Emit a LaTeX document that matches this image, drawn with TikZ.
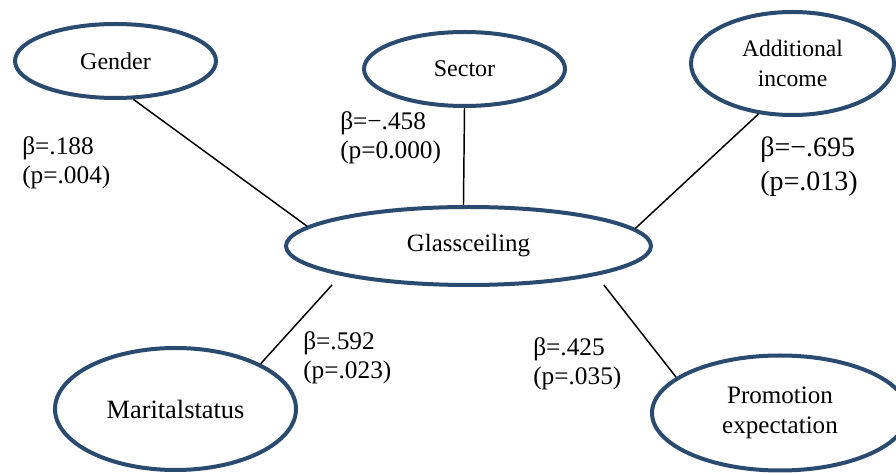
\documentclass[tikz,border=0pt]{standalone}
\usepackage{fontspec}
\setmainfont{Liberation Serif}
\usetikzlibrary{shapes.geometric}
\definecolor{ellblue}{HTML}{2B4A6F}
\begin{document}
\begin{tikzpicture}[x=0.75pt,y=-0.75pt,
  ell/.style={ellipse, draw=ellblue, line width=3pt, inner sep=0pt, align=center},
  conn/.style={line width=1.1pt, black},
  lbl/.style={anchor=west, inner sep=0pt, align=left, font=\fontsize{19}{22}\selectfont}]
\path[use as bounding box, clip] (0,0) rectangle (896,473);
\fill[white] (0,0) rectangle (896,473);
% nodes
\node[ell, minimum width={201*0.75pt}, minimum height={74*0.75pt}, font=\fontsize{18}{22.5}\selectfont] (gender) at (115.5,61) {Gender};
\node[ell, minimum width={201*0.75pt}, minimum height={74*0.75pt}, font=\fontsize{18}{22.5}\selectfont] (sector) at (464.5,69) {Sector};
\node[ell, minimum width={203*0.75pt}, minimum height={103*0.75pt}, font=\fontsize{17.7}{22.5}\selectfont] (addl) at (792.5,63.5) {Additional\\income};
\node[ell, minimum width={365*0.75pt}, minimum height={78*0.75pt}, font=\fontsize{18.7}{22.5}\selectfont] (glass) at (468.5,246) {Glassceiling};
\node[ell, minimum width={241*0.75pt}, minimum height={122*0.75pt}, font=\fontsize{19.8}{22.5}\selectfont] (marital) at (175.5,409) {Maritalstatus};
\node[ell, minimum width={256*0.75pt}, minimum height={115*0.75pt}, font=\fontsize{18.8}{22.5}\selectfont] (promo) at (780,413) {Promotion\\expectation};
% connectors
\draw[conn] (gender.-65) -- (glass.173);
\draw[conn] (sector.-90) -- (glass.97.6);
\draw[conn] (addl.236.4) -- (glass.6.4);
\draw[conn, shorten <=9.5pt] (glass.193.3) -- (marital.28);
\draw[conn, shorten <=9pt] (glass.-13.5) -- (promo.161.5);
% labels
\node[lbl] (lg) at (22,163) {β=.188\\(p=.004)};
\node[lbl] (ls) at (340,138) {β=−.458\\(p=0.000)};
\node[lbl, font=\fontsize{21}{25.5}\selectfont] (la) at (760,167) {β=−.695\\(p=.013)};
\node[lbl] (lm) at (303,358) {β=.592\\(p=.023)};
\node[lbl] (lp) at (533,364) {β=.425\\(p=.035)};
\end{tikzpicture}
\end{document}
